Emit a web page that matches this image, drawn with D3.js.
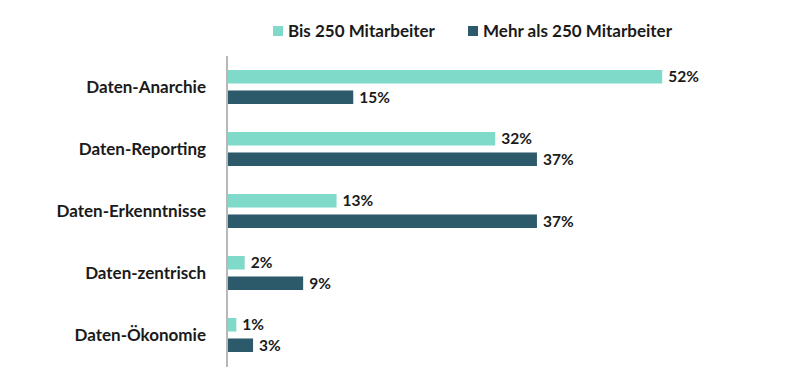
<!DOCTYPE html>
<html>
<head>
<meta charset="utf-8">
<script src="https://cdn.jsdelivr.net/npm/d3@7"></script>
<style>
  body { margin: 0; background: #fff; }
  text { font-family: Lato, "Open Sans", sans-serif; font-weight: 700; fill: #1a1a1a; }
</style>
</head>
<body>
<div id="chart"></div>
<script>
var categories = ["Daten-Anarchie", "Daten-Reporting", "Daten-Erkenntnisse", "Daten-zentrisch", "Daten-Ökonomie"];
var seriesNames = ["Bis 250 Mitarbeiter", "Mehr als 250 Mitarbeiter"];
var small = [52, 32, 13, 2, 1];
var large = [15, 37, 37, 9, 3];
var colors = ["#7fdac9", "#2c5a6b"];

var width = 800, height = 379;

var svg = d3.select("#chart").append("svg")
    .attr("width", width)
    .attr("height", height);

// scales
var x = d3.scaleLinear().domain([0, 60]).range([228, 729]);
var y0 = d3.scaleBand().domain(categories).range([56, 366]);
var y1 = d3.scaleBand().domain(seriesNames).range([14, 48]).paddingInner(0.34);

var rows = categories.map(function(c, i) {
  return { cat: c, values: [small[i], large[i]] };
});

var groups = svg.selectAll(".group")
    .data(rows)
  .enter().append("g")
    .attr("class", "group")
    .attr("transform", function(d) { return "translate(0," + y0(d.cat) + ")"; });

groups.selectAll("rect")
    .data(function(d) { return d.values.map(function(v, j) { return { s: seriesNames[j], v: v, j: j }; }); })
  .enter().append("rect")
    .attr("x", x(0))
    .attr("y", function(d) { return y1(d.s); })
    .attr("width", function(d) { return x(d.v) - x(0); })
    .attr("height", y1.bandwidth())
    .attr("fill", function(d) { return colors[d.j]; });

groups.selectAll(".val")
    .data(function(d) { return d.values.map(function(v, j) { return { s: seriesNames[j], v: v }; }); })
  .enter().append("text")
    .attr("class", "val")
    .attr("x", function(d) { return x(d.v) + 6; })
    .attr("y", function(d) { return y1(d.s) + y1.bandwidth() / 2; })
    .attr("dy", "0.35em")
    .attr("font-size", 15.5)
    .text(function(d) { return d.v + "%"; });

// category labels
svg.selectAll(".cat")
    .data(categories)
  .enter().append("text")
    .attr("class", "cat")
    .attr("x", 206)
    .attr("y", function(d) { return y0(d) + y0.bandwidth() / 2; })
    .attr("dy", "0.35em")
    .attr("text-anchor", "end")
    .attr("font-size", 17)
    .text(function(d) { return d; });

// axis line
svg.append("line")
    .attr("x1", 227).attr("x2", 227)
    .attr("y1", 56).attr("y2", 367)
    .attr("stroke", "#a0a0a0")
    .attr("stroke-width", 1.5);

// legend
var legendX = [273, 468];
var legend = svg.selectAll(".legend")
    .data(seriesNames)
  .enter().append("g")
    .attr("class", "legend")
    .attr("transform", function(d, i) { return "translate(" + legendX[i] + ",25)"; });

legend.append("rect")
    .attr("width", 10).attr("height", 10)
    .attr("y", 1)
    .attr("fill", function(d, i) { return colors[i]; });

legend.append("text")
    .attr("x", 15)
    .attr("y", 6)
    .attr("dy", "0.35em")
    .attr("font-size", 17)
    .text(function(d) { return d; });
</script>
</body>
</html>
